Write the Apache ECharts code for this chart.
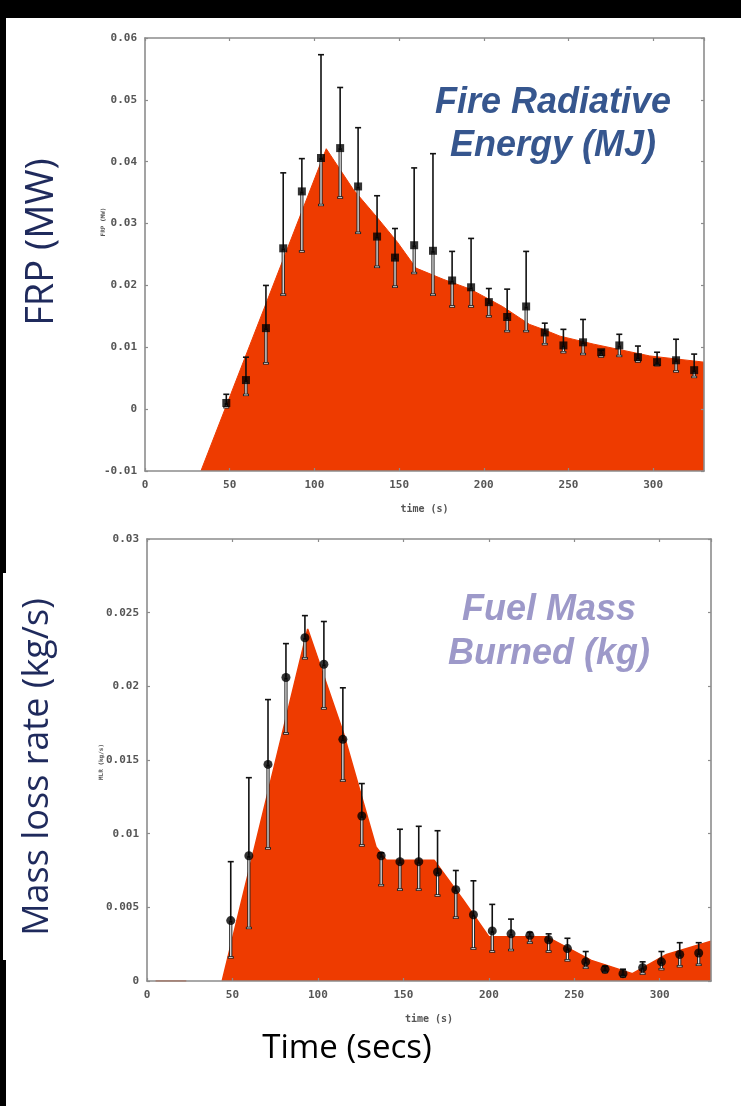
<!DOCTYPE html>
<html>
<head>
<meta charset="utf-8">
<script src="https://cdn.jsdelivr.net/npm/echarts@6/dist/echarts.min.js"></script>
<style>
html,body{margin:0;padding:0;background:#fff;}
#c{width:741px;height:1106px;}
</style>
</head>
<body>
<div id="c"></div>
<script>
// ---------- FRP (top panel) ----------
const frpT  = [48,59.6,71.4,81.6,92.6,103.9,115.2,125.8,137,147.6,158.9,170,181.3,192.5,203,213.8,225,236,247,258.6,269.3,280,291,302.3,313.5,324.2];
const frpV  = [0.001,0.0047,0.0131,0.026,0.0352,0.0406,0.0422,0.036,0.0279,0.0245,0.0265,0.0256,0.0208,0.0197,0.0173,0.0149,0.0166,0.0124,0.0103,0.0108,0.0092,0.0103,0.0084,0.0076,0.0079,0.0063];
const frpHi = [0.0024,0.0084,0.020,0.0382,0.0405,0.0573,0.052,0.0455,0.0345,0.0292,0.039,0.0413,0.0255,0.0276,0.0195,0.0194,0.0255,0.0139,0.0129,0.0145,0.0095,0.0121,0.0102,0.0092,0.0113,0.0089];
const frpLo = [0.0003,0.0023,0.0074,0.0185,0.0255,0.033,0.0342,0.0285,0.023,0.0198,0.022,0.0185,0.0166,0.0166,0.015,0.0126,0.0126,0.0105,0.0092,0.0089,0.0085,0.0086,0.0077,0.0071,0.0061,0.0052];
const frpModelT = [33,107,123,137,149,160,176,192,211,227,235,245,265,298,330];
const frpModelV = [-0.01,0.0421,0.0355,0.031,0.027,0.0228,0.021,0.0194,0.0166,0.0137,0.0129,0.0118,0.0105,0.0086,0.0076];

// ---------- MLR (bottom panel) ----------
const mlrT  = [49,59.6,70.8,81.3,92.4,103.5,114.6,125.7,137,148,159,170,180.7,191,202,213,224,235,246,256.7,268,278.5,290,301,311.7,322.8];
const mlrV  = [0.0041,0.0085,0.0147,0.0206,0.0233,0.0215,0.0164,0.0112,0.0085,0.0081,0.0081,0.0074,0.0062,0.0045,0.0034,0.0032,0.0031,0.0028,0.0022,0.0013,0.0008,0.0005,0.0009,0.0013,0.0018,0.0019];
const mlrHi = [0.0081,0.0138,0.0191,0.0229,0.0248,0.0244,0.0199,0.0134,0.0087,0.0103,0.0105,0.0102,0.0075,0.0068,0.0052,0.0042,0.0033,0.0032,0.0029,0.002,0.001,0.0008,0.0013,0.002,0.0026,0.0026];
const mlrLo = [0.0016,0.0036,0.009,0.0168,0.0219,0.0185,0.0136,0.0092,0.0065,0.0062,0.0062,0.0058,0.0043,0.0022,0.002,0.0021,0.0026,0.002,0.0014,0.0009,0.0006,0.0003,0.0005,0.0008,0.001,0.0011];
const mlrModelT = [5,23,23.5,44,94,115,134,140,168,185,200,234,260,284,304,330];
const mlrModelV = [0,0,null,0,0.0239,0.0168,0.0091,0.0082,0.0082,0.0055,0.003,0.003,0.0014,0.0005,0.0018,0.0027];

// ---------- tick labels / text ----------
const xTicks = [0,50,100,150,200,250,300];
const frpYLabels = ['-0.01','0','0.01','0.02','0.03','0.04','0.05','0.06'];
const mlrYLabels = ['0','0.005','0.01','0.015','0.02','0.025','0.03'];

const RED = '#ee3b00';
const AX = '#8c8c8c';
const tickFont = {fontFamily:'DejaVu Sans Mono', fontWeight:'bold', fontSize:11, color:'#555'};

function pairs(t, v){ return t.map((x,i)=>[x, v[i]]); }
function errData(t, lo, hi, v){ return t.map((x,i)=>[x, lo[i], hi[i], v[i]]); }

function errRender(params, api){
  const t = api.value(0), lo = api.value(1), hi = api.value(2), v = api.value(3);
  const pH = api.coord([t,hi]), pL = api.coord([t,lo]), pV = api.coord([t,v]);
  const x = pH[0], cw = 3;
  return {type:'group', children:[
    {type:'line', shape:{x1:x,y1:pH[1],x2:x,y2:pV[1]}, style:{stroke:'#111',lineWidth:1.6}},
    {type:'line', shape:{x1:x-cw,y1:pH[1],x2:x+cw,y2:pH[1]}, style:{stroke:'#111',lineWidth:1.6}},
    {type:'line', shape:{x1:x,y1:pV[1],x2:x,y2:pL[1]}, style:{stroke:'#222',lineWidth:3.2}},
    {type:'line', shape:{x1:x,y1:pV[1]+2,x2:x,y2:pL[1]-1}, style:{stroke:'#f4f4f4',lineWidth:1.2}},
    {type:'line', shape:{x1:x-cw,y1:pL[1],x2:x+cw,y2:pL[1]}, style:{stroke:'#222',lineWidth:2.4}},
    {type:'line', shape:{x1:x-cw+1,y1:pL[1],x2:x+cw-1,y2:pL[1]}, style:{stroke:'#f4f4f4',lineWidth:0.8}}
  ]};
}

function xAx(grid, pos, showLabel, name){
  return {type:'value', gridIndex:grid, position:pos, min:0, max:330, interval:50, z:5,
    axisLine:{show:true, onZero:false, lineStyle:{color:AX, width:1.6}},
    axisTick:{show:true, inside:true, length:3, lineStyle:{color:AX, width:1.2}},
    axisLabel:{show:showLabel, margin:9, showMaxLabel:false, ...tickFont,
      formatter:(v)=>{const i = xTicks.indexOf(v); return i>=0 ? String(xTicks[i]) : '';}},
    splitLine:{show:false},
    name: name || '', nameLocation:'middle', nameGap:33,
    nameTextStyle:{fontFamily:'DejaVu Sans Mono', fontWeight:'bold', fontSize:10, color:'#555'}};
}
function yAx(grid, pos, showLabel, min, max, interval, labels){
  return {type:'value', gridIndex:grid, position:pos, min:min, max:max, interval:interval, z:5,
    axisLine:{show:true, onZero:false, lineStyle:{color:AX, width:1.6}},
    axisTick:{show:true, inside:true, length:3, lineStyle:{color:AX, width:1.2}},
    axisLabel:{show:showLabel, margin:8, ...tickFont,
      formatter:(v)=>{const i = Math.round((v-min)/interval); return labels[i] !== undefined ? labels[i] : '';}},
    splitLine:{show:false}};
}

const chart = echarts.init(document.getElementById('c'), null, {renderer:'canvas'});
const option = {
  backgroundColor:'#fff',
  animation:false,
  grid:[
    {left:145, top:38, width:559, height:433, show:true, backgroundColor:'#fff', borderWidth:0},
    {left:147, top:539, width:564, height:442, show:true, backgroundColor:'#fff', borderWidth:0}
  ],
  xAxis:[
    xAx(0,'bottom',true,'time (s)'), xAx(0,'top',false),
    xAx(1,'bottom',true,'time (s)'), xAx(1,'top',false)
  ],
  yAxis:[
    yAx(0,'left',true,-0.01,0.06,0.01,frpYLabels), yAx(0,'right',false,-0.01,0.06,0.01,frpYLabels),
    yAx(1,'left',true,0,0.03,0.005,mlrYLabels), yAx(1,'right',false,0,0.03,0.005,mlrYLabels)
  ],
  series:[
    {type:'line', xAxisIndex:0, yAxisIndex:0, data:pairs(frpModelT, frpModelV), showSymbol:false, z:1,
      lineStyle:{color:RED, width:1}, areaStyle:{color:RED, opacity:1, origin:'start'}},
    {type:'custom', xAxisIndex:0, yAxisIndex:0, data:errData(frpT, frpLo, frpHi, frpV), renderItem:errRender, z:3, clip:false},
    {type:'scatter', xAxisIndex:0, yAxisIndex:0, data:pairs(frpT, frpV), symbol:'rect', symbolSize:8, z:4,
      itemStyle:{color:'#000'}},
    {type:'line', xAxisIndex:2, yAxisIndex:2, data:pairs(mlrModelT, mlrModelV), showSymbol:false, z:1, connectNulls:false,
      lineStyle:{color:RED, width:1.5}, areaStyle:{color:RED, opacity:1, origin:'start'}},
    {type:'custom', xAxisIndex:2, yAxisIndex:2, data:errData(mlrT, mlrLo, mlrHi, mlrV), renderItem:errRender, z:3, clip:false},
    {type:'scatter', xAxisIndex:2, yAxisIndex:2, data:pairs(mlrT, mlrV), symbol:'circle', symbolSize:9, z:4,
      itemStyle:{color:'#000'}}
  ],
  graphic:[
    {type:'rect', shape:{x:0,y:0,width:741,height:18}, style:{fill:'#000'}, z:10},
    {type:'rect', shape:{x:0,y:0,width:6,height:573}, style:{fill:'#000'}, z:10},
    {type:'rect', shape:{x:0,y:573,width:3,height:387}, style:{fill:'#000'}, z:10},
    {type:'rect', shape:{x:0,y:960,width:6,height:146}, style:{fill:'#000'}, z:10},
    // small axis names
    {type:'text', x:103, y:222, rotation:Math.PI/2, z:10,
      style:{text:'FRP (MW)', fontFamily:'DejaVu Sans Mono', fontWeight:'bold', fontSize:6, fill:'#555', align:'center', verticalAlign:'middle'}},
    {type:'text', x:101, y:762, rotation:Math.PI/2, z:10,
      style:{text:'MLR (kg/s)', fontFamily:'DejaVu Sans Mono', fontWeight:'bold', fontSize:6, fill:'#555', align:'center', verticalAlign:'middle'}},
    // big labels
    {type:'text', x:42, y:242, rotation:Math.PI/2, z:10,
      style:{text:'FRP (MW)', fontFamily:'Open Sans', fontSize:38, fill:'#1f2a5c', align:'center', verticalAlign:'middle'}},
    {type:'text', x:38, y:767, rotation:Math.PI/2, z:10,
      style:{text:'Mass loss rate (kg/s)', fontFamily:'Open Sans', fontSize:36, fill:'#1f2a5c', align:'center', verticalAlign:'middle'}},
    {type:'text', x:347, y:1049, z:10,
      style:{text:'Time (secs)', fontFamily:'Open Sans', fontSize:33, fill:'#000', align:'center', verticalAlign:'middle'}},
    {type:'text', x:553, y:103, z:10,
      style:{text:'Fire Radiative', fontFamily:'Liberation Sans', fontStyle:'italic', fontWeight:'bold', fontSize:36, fill:'#36568e', align:'center', verticalAlign:'middle'}},
    {type:'text', x:553, y:146, z:10,
      style:{text:'Energy (MJ)', fontFamily:'Liberation Sans', fontStyle:'italic', fontWeight:'bold', fontSize:36, fill:'#36568e', align:'center', verticalAlign:'middle'}},
    {type:'text', x:549, y:610, z:10,
      style:{text:'Fuel Mass', fontFamily:'Liberation Sans', fontStyle:'italic', fontWeight:'bold', fontSize:36, fill:'#9d99c9', align:'center', verticalAlign:'middle'}},
    {type:'text', x:549, y:654, z:10,
      style:{text:'Burned (kg)', fontFamily:'Liberation Sans', fontStyle:'italic', fontWeight:'bold', fontSize:36, fill:'#9d99c9', align:'center', verticalAlign:'middle'}}
  ]
};
chart.setOption(option);
</script>
</body>
</html>
